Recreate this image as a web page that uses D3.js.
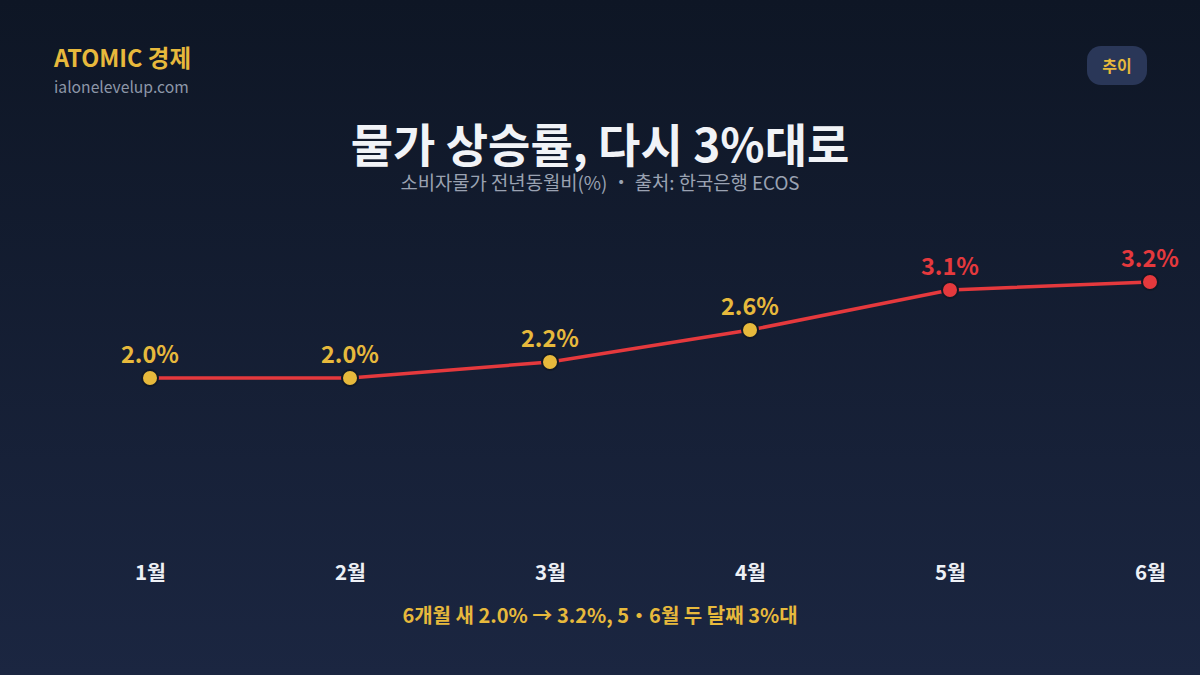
<!DOCTYPE html>
<html>
<head>
<meta charset="utf-8">
<script src="https://cdn.jsdelivr.net/npm/d3@7"></script>
<style>
  html, body { margin: 0; padding: 0; background: #0f1727; }
  svg { display: block; }
  text { font-family: "Noto Sans CJK KR", "Noto Sans", sans-serif; }
</style>
</head>
<body>
<div id="chart"></div>
<script>
var months = ["1월", "2월", "3월", "4월", "5월", "6월"]
var cpi = [2.0, 2.0, 2.2, 2.6, 3.1, 3.2]
var valueLabels = ["2.0%", "2.0%", "2.2%", "2.6%", "3.1%", "3.2%"]

var width = 1200, height = 675
var yellow = "#e7b93c", red = "#e5393d"

var svg = d3.select("#chart").append("svg")
  .attr("width", width)
  .attr("height", height)

var defs = svg.append("defs")
var grad = defs.append("linearGradient")
  .attr("id", "bg").attr("x1", 0).attr("y1", 0).attr("x2", 0).attr("y2", 1)
grad.append("stop").attr("offset", "0%").attr("stop-color", "#0e1625")
grad.append("stop").attr("offset", "100%").attr("stop-color", "#1b2641")

svg.append("rect").attr("width", width).attr("height", height).attr("fill", "url(#bg)")

// header
svg.append("text").attr("x", 54).attr("y", 67)
  .attr("fill", yellow).attr("font-size", 23.5).attr("font-weight", 700)
  .text("ATOMIC 경제")
svg.append("text").attr("x", 54).attr("y", 93)
  .attr("fill", "#8d97a8").attr("font-size", 15.7)
  .text("ialonelevelup.com")

svg.append("rect").attr("x", 1087).attr("y", 46).attr("width", 60).attr("height", 39)
  .attr("rx", 14).attr("fill", "#2a3758")
svg.append("text").attr("x", 1117).attr("y", 72).attr("text-anchor", "middle")
  .attr("fill", yellow).attr("font-size", 16).attr("font-weight", 700)
  .text("추이")

svg.append("text").attr("x", 600).attr("y", 162).attr("text-anchor", "middle")
  .attr("fill", "#f1f3f7").attr("font-size", 46).attr("font-weight", 700)
  .text("물가 상승률, 다시 3%대로")
svg.append("text").attr("x", 600).attr("y", 190).attr("text-anchor", "middle")
  .attr("fill", "#9aa2b2").attr("font-size", 18.8)
  .text("소비자물가 전년동월비(%)  ・  출처: 한국은행 ECOS")

// scales
var x = d3.scalePoint().domain(months).range([150, 1150])
var y = d3.scaleLinear().domain([2.0, 3.2]).range([378, 282])

var line = d3.line()
  .x(function(d, i) { return x(months[i]) })
  .y(function(d) { return y(d) })

svg.append("path").datum(cpi)
  .attr("d", line)
  .attr("fill", "none")
  .attr("stroke", red)
  .attr("stroke-width", 3.5)

svg.selectAll("circle.pt").data(cpi).enter().append("circle")
  .attr("class", "pt")
  .attr("cx", function(d, i) { return x(months[i]) })
  .attr("cy", function(d) { return y(d) })
  .attr("r", 8)
  .attr("fill", function(d) { return d >= 3 ? red : yellow })
  .attr("stroke", "#111827")
  .attr("stroke-width", 2)

svg.selectAll("text.val").data(cpi).enter().append("text")
  .attr("class", "val")
  .attr("x", function(d, i) { return x(months[i]) })
  .attr("y", function(d) { return y(d) - 15 })
  .attr("text-anchor", "middle")
  .attr("fill", function(d) { return d >= 3 ? red : yellow })
  .attr("font-size", 23.5).attr("font-weight", 700)
  .text(function(d, i) { return valueLabels[i] })

// month axis
var xAxis = svg.append("g")
  .attr("transform", "translate(0,580)")
  .call(d3.axisBottom(x).tickSize(0).tickPadding(0))
xAxis.select(".domain").remove()
xAxis.selectAll("text")
  .attr("dy", 0)
  .attr("fill", "#eef1f6")
  .attr("font-size", 20.5).attr("font-weight", 700)
  .style("font-family", "'Noto Sans CJK KR', sans-serif")

svg.append("text").attr("x", 600).attr("y", 623).attr("text-anchor", "middle")
  .attr("fill", yellow).attr("font-size", 20).attr("font-weight", 700)
  .text("6개월 새 2.0% → 3.2%, 5・6월 두 달째 3%대")
</script>
</body>
</html>
